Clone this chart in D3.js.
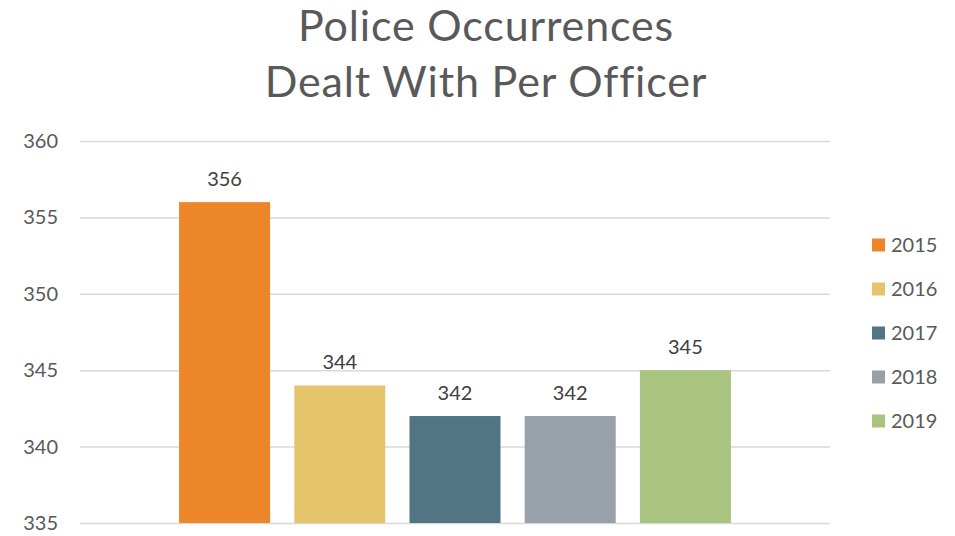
<!DOCTYPE html>
<html>
<head>
<meta charset="utf-8">
<script src="https://cdn.jsdelivr.net/npm/d3@7"></script>
<style>
  html, body { margin: 0; padding: 0; background: #fff; }
  svg { display: block; }
  text { font-family: "Gill Sans", Lato, "Open Sans", sans-serif; }
</style>
</head>
<body>
<svg id="chart" width="955" height="536"></svg>
<script>
// Police occurrences dealt with per officer, by year
const years = ["2015", "2016", "2017", "2018", "2019"];
const occurrences = [356, 344, 342, 342, 345];
const yTicks = [335, 340, 345, 350, 355, 360];
const colors = ["#ED8628", "#E5C46B", "#517583", "#98A0A9", "#A9C47F"];
const titleLines = ["Police Occurrences", "Dealt With Per Officer"];

const svg = d3.select("#chart");
const plot = { left: 80, right: 830, top: 141, bottom: 523 };

const x = d3.scaleBand().domain(years).range([plot.left, plot.right]).paddingInner(0.21).paddingOuter(0.86);
const y = d3.scaleLinear().domain([335, 360]).range([plot.bottom, plot.top]);

// Title
svg.append("g").selectAll("text").data(titleLines).join("text")
  .attr("x", 486).attr("y", (d, i) => 41 + i * 56)
  .attr("text-anchor", "middle")
  .attr("font-size", 43)
  .attr("letter-spacing", 0.85)
  .attr("fill", "#595959")
  .text(d => d);

// Gridlines and y labels
const yAxis = d3.axisLeft(y).tickValues(yTicks).tickSize(-(plot.right - plot.left)).tickFormat(d3.format("d"));
const gy = svg.append("g").attr("transform", `translate(${plot.left},0)`).call(yAxis);
gy.select(".domain").remove();
gy.selectAll(".tick line").attr("stroke", "#d9d9d9").attr("stroke-width", 1.5);
gy.selectAll(".tick text")
  .attr("x", -22)
  .attr("font-size", 20)
  .attr("fill", "#595959")
  .attr("font-family", "\"Gill Sans\", Lato, sans-serif");

// Bars
svg.append("g").selectAll("rect").data(occurrences).join("rect")
  .attr("x", (d, i) => x(years[i]))
  .attr("width", x.bandwidth())
  .attr("y", d => y(d))
  .attr("height", d => y(335) - y(d))
  .attr("fill", (d, i) => colors[i]);

// Value labels
svg.append("g").selectAll("text").data(occurrences).join("text")
  .attr("x", (d, i) => x(years[i]) + x.bandwidth() / 2)
  .attr("y", d => y(d) - 16)
  .attr("text-anchor", "middle")
  .attr("font-size", 20)
  .attr("fill", "#404040")
  .text(d => d);

// Legend
const legend = svg.append("g").selectAll("g").data(years).join("g")
  .attr("transform", (d, i) => `translate(872,${245 + i * 44})`);
legend.append("rect").attr("x", 0).attr("y", -6.5).attr("width", 13).attr("height", 13)
  .attr("fill", (d, i) => colors[i]);
legend.append("text").attr("x", 19).attr("y", 0).attr("dy", "0.36em")
  .attr("font-size", 20).attr("fill", "#595959").text(d => d);
</script>
</body>
</html>
